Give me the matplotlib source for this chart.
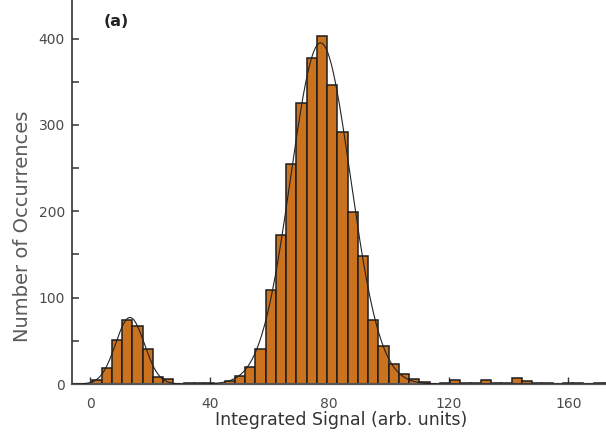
import numpy as np
import matplotlib
matplotlib.use("Agg")
import matplotlib.pyplot as plt
from matplotlib.ticker import MultipleLocator

# ---- data ----
bin_start = 0.43           # left edge of first bin (arb. units)
bin_width = 3.43           # bin width (arb. units)
counts = [5, 18, 51, 74, 67, 41, 8.5, 6, 0, 1, 1, 1, 0, 4, 9, 20, 41, 109, 172, 255,
          325, 378, 403, 346, 292, 199, 148, 74, 44, 23, 11, 5.5, 2.5, 0, 1, 4.5, 1, 1,
          4.5, 1.5, 1.5, 7, 4, 1, 1, 0, 1, 1, 0, 1, 1]

# two-Gaussian fit: amplitude, mean, sigma
fit_amp = [77, 395]
fit_mean = [13.3, 77.1]
fit_sigma = [4.8, 10.0]

xticks = [0, 40, 80, 120, 160]
yticks = [0, 100, 200, 300, 400]

# ---- figure ----
W, H = 606, 434
fig = plt.figure(figsize=(W / 100, H / 100), dpi=100)
ax = fig.add_axes([72 / W, 50 / H, (W - 72) / W, 384 / H])

edges = bin_start + bin_width * np.arange(len(counts))
ax.bar(edges, counts, width=bin_width, align='edge', color='#CB721F',
       edgecolor='#1c1c1c', linewidth=1.1, zorder=2)

xs = np.linspace(-8, 180, 1200)
ys = np.zeros_like(xs)
for a, m, s in zip(fit_amp, fit_mean, fit_sigma):
    ys += a * np.exp(-0.5 * ((xs - m) / s) ** 2)
ax.plot(xs, ys, color='#222222', lw=0.8, zorder=3)

ax.set_xlim(-6.1, 172.65)
ax.set_ylim(0, 444.6)
ax.set_xticks(xticks)
ax.set_yticks(yticks)
ax.yaxis.set_minor_locator(MultipleLocator(50))

for side in ['top', 'right']:
    ax.spines[side].set_visible(False)
ax.spines['left'].set_color('#333333')
ax.spines['left'].set_linewidth(1.2)
ax.spines['bottom'].set_color('#555555')
ax.spines['bottom'].set_linewidth(1.6)

ax.tick_params(axis='y', which='both', direction='in', length=5, width=1.1,
               color='#333333', labelsize=10, labelcolor='#4a4a4a', pad=5)
ax.tick_params(axis='x', which='both', direction='in', length=5, width=1.0,
               color='#333333', labelsize=10, labelcolor='#4a4a4a', pad=9)
for lab in ax.get_xticklabels() + ax.get_yticklabels():
    lab.set_family('DejaVu Sans')

fig.text(341.5 / W, 1 - 420 / H, 'Integrated Signal (arb. units)', ha='center',
         va='center', fontsize=12.5, color='#333333', family='DejaVu Sans')
fig.text(23 / W, 1 - 226 / H, 'Number of Occurrences', ha='center', va='center',
         rotation=90, fontsize=14, color='#5a5a5a', family='DejaVu Sans')
fig.text(116.5 / W, 1 - 21 / H, '(a)', ha='center', va='center', fontsize=11.5,
         fontweight='bold', color='#222222', family='DejaVu Sans')

fig.savefig('out.png', dpi=100)
